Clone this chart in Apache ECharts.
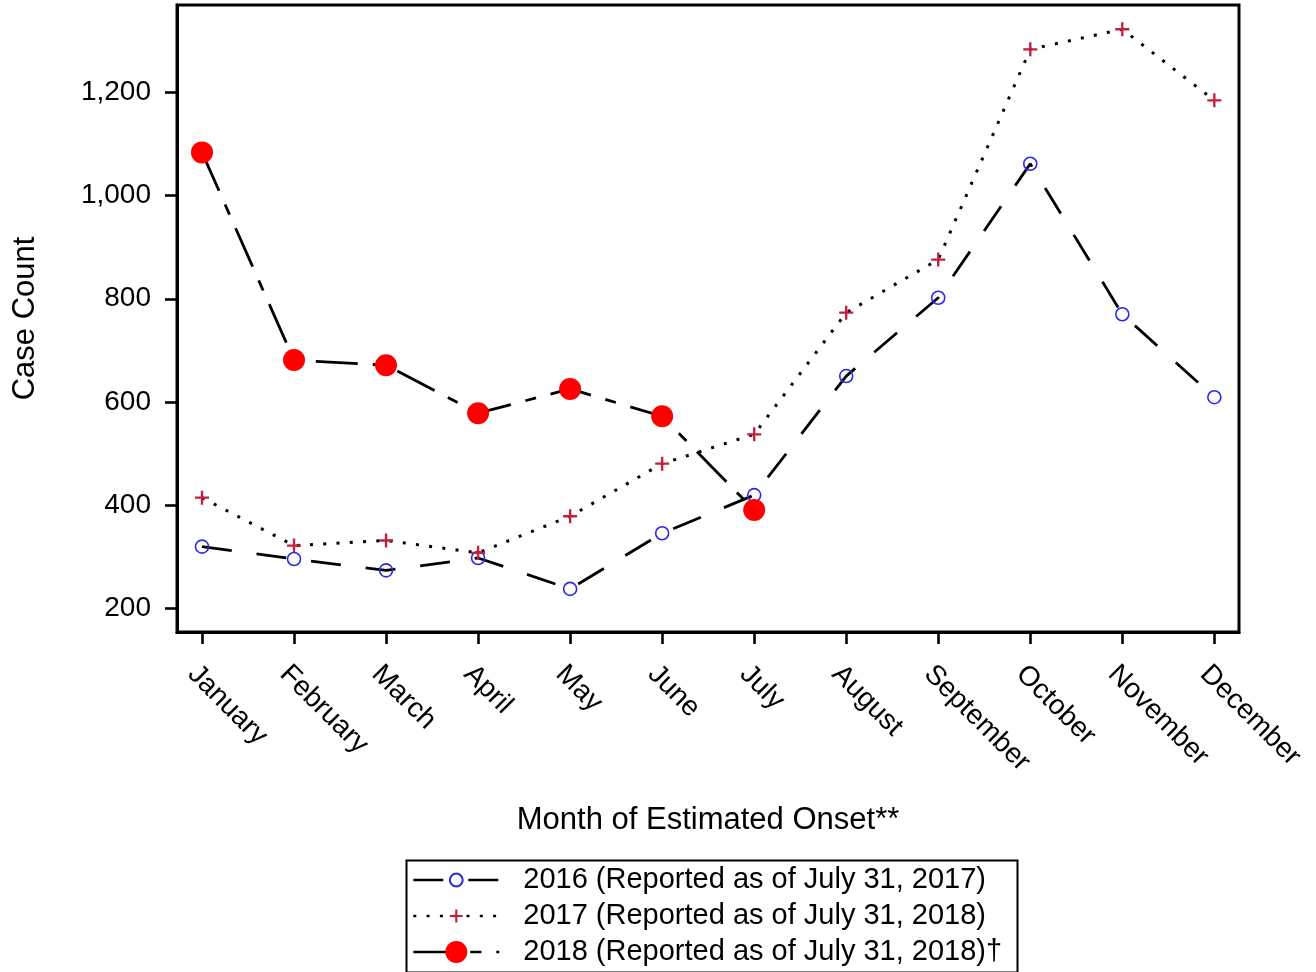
<!DOCTYPE html>
<html><head><meta charset="utf-8">
<script src="https://cdn.jsdelivr.net/npm/echarts@6/dist/echarts.min.js"></script>
<style>html,body{margin:0;padding:0;background:#fff}#c{width:1316px;height:972px}</style>
</head><body><div id="c"></div>
<script>
const months = ['January','February','March','April','May','June','July','August','September','October','November','December'];
const monthIndex = [0,1,2,3,4,5,6,7,8,9,10,11];
const yTicks = [200,400,600,800,1000,1200];
const cases2016 = [319,295,273,297,237,345,419,650,802,1062,770,609];
const cases2017 = [414,321,331,307,378,480,537,773,876,1284,1323,1185];
const cases2018 = [1084,681,671,578,625,572,390];
const seriesNames = ['2016 (Reported as of July 31, 2017)','2017 (Reported as of July 31, 2018)','2018 (Reported as of July 31, 2018)\u2020'];
const xTitle = 'Month of Estimated Onset**';
const yTitle = 'Case Count';

const FONT = '"Liberation Sans", Arial, sans-serif';
const toPts = arr => arr.map((v, i) => [monthIndex[i], v]);
const fmtNum = v => v.toLocaleString('en-US');

const chart = echarts.init(document.getElementById('c'), null, {renderer: 'canvas'});
const legendBase = {
  orient: 'vertical', left: 412, itemWidth: 86, padding: 0, itemGap: 0,
  selectedMode: false,
  lineStyle: {width: 2.6},
  textStyle: {fontFamily: FONT, fontSize: 29, color: '#000', lineHeight: 30, padding: [0, 0, 0, 19]}
};
chart.setOption({
  animation: false,
  backgroundColor: '#fff',
  grid: {left: 177, top: 5, width: 1062, height: 627, show: true, borderColor: '#000', borderWidth: 3, backgroundColor: 'transparent', containLabel: false, outerBoundsMode: 'none'},
  xAxis: {
    type: 'value', min: -0.2716, max: 11.268,
    name: xTitle, nameLocation: 'middle', nameGap: 173, nameMoveOverlap: false,
    nameTextStyle: {fontFamily: FONT, fontSize: 31, color: '#000'},
    axisLine: {show: true, onZero: false, lineStyle: {color: '#000', width: 3}},
    axisTick: {show: true, inside: false, length: 12, customValues: monthIndex, lineStyle: {color: '#000', width: 2.6}},
    axisLabel: {show: true, customValues: monthIndex, rotate: -45, margin: 28, align: 'left', verticalAlign: 'top',
      fontFamily: FONT, fontSize: 28, color: '#000', formatter: v => months[Math.round(v)]},
    splitLine: {show: false}
  },
  yAxis: {
    type: 'value', min: 153.4, max: 1370,
    name: yTitle, nameLocation: 'middle', nameGap: 136, nameMoveOverlap: false,
    nameTextStyle: {fontFamily: FONT, fontSize: 31, color: '#000'},
    axisLine: {show: true, onZero: false, lineStyle: {color: '#000', width: 3}},
    axisTick: {show: true, inside: false, length: 12, customValues: yTicks, lineStyle: {color: '#000', width: 2.6}},
    axisLabel: {show: true, customValues: yTicks, margin: 26, fontFamily: FONT, fontSize: 28, color: '#000', formatter: v => fmtNum(v)},
    splitLine: {show: false}
  },
  legend: [
    Object.assign({}, legendBase, {top: 865, itemHeight: 16, data: [seriesNames[0]]}),
    Object.assign({}, legendBase, {top: 901, itemHeight: 16, data: [seriesNames[1]]}),
    Object.assign({}, legendBase, {top: 937, itemHeight: 27.5, data: [seriesNames[2]]})
  ],
  graphic: [{type: 'rect', left: 404, top: 858, z: -1, silent: true,
    shape: {width: 611, height: 112}, style: {fill: 'none', stroke: '#000', lineWidth: 2}}],
  series: [
    {name: seriesNames[0], type: 'line', data: toPts(cases2016), clip: false,
      symbol: 'circle', symbolSize: 13,
      itemStyle: {color: 'rgba(0,0,0,0)', borderColor: '#2a2ae6', borderWidth: 1.6},
      lineStyle: {color: '#000', width: 2.8, type: [30, 25]}},
    {name: seriesNames[1], type: 'line', data: toPts(cases2017), clip: false,
      symbol: 'path://M5,0H7V5H12V7H7V12H5V7H0V5H5Z', symbolSize: 14,
      itemStyle: {color: '#c21f3a', borderWidth: 0},
      lineStyle: {color: '#000', width: 3, type: [3, 10.3]}},
    {name: seriesNames[2], type: 'line', data: toPts(cases2018), clip: false,
      symbol: 'circle', symbolSize: 22,
      itemStyle: {color: '#ff0000', borderWidth: 0},
      lineStyle: {color: '#000', width: 2.8, type: [42, 15, 11, 15]}}
  ]
});
</script></body></html>
